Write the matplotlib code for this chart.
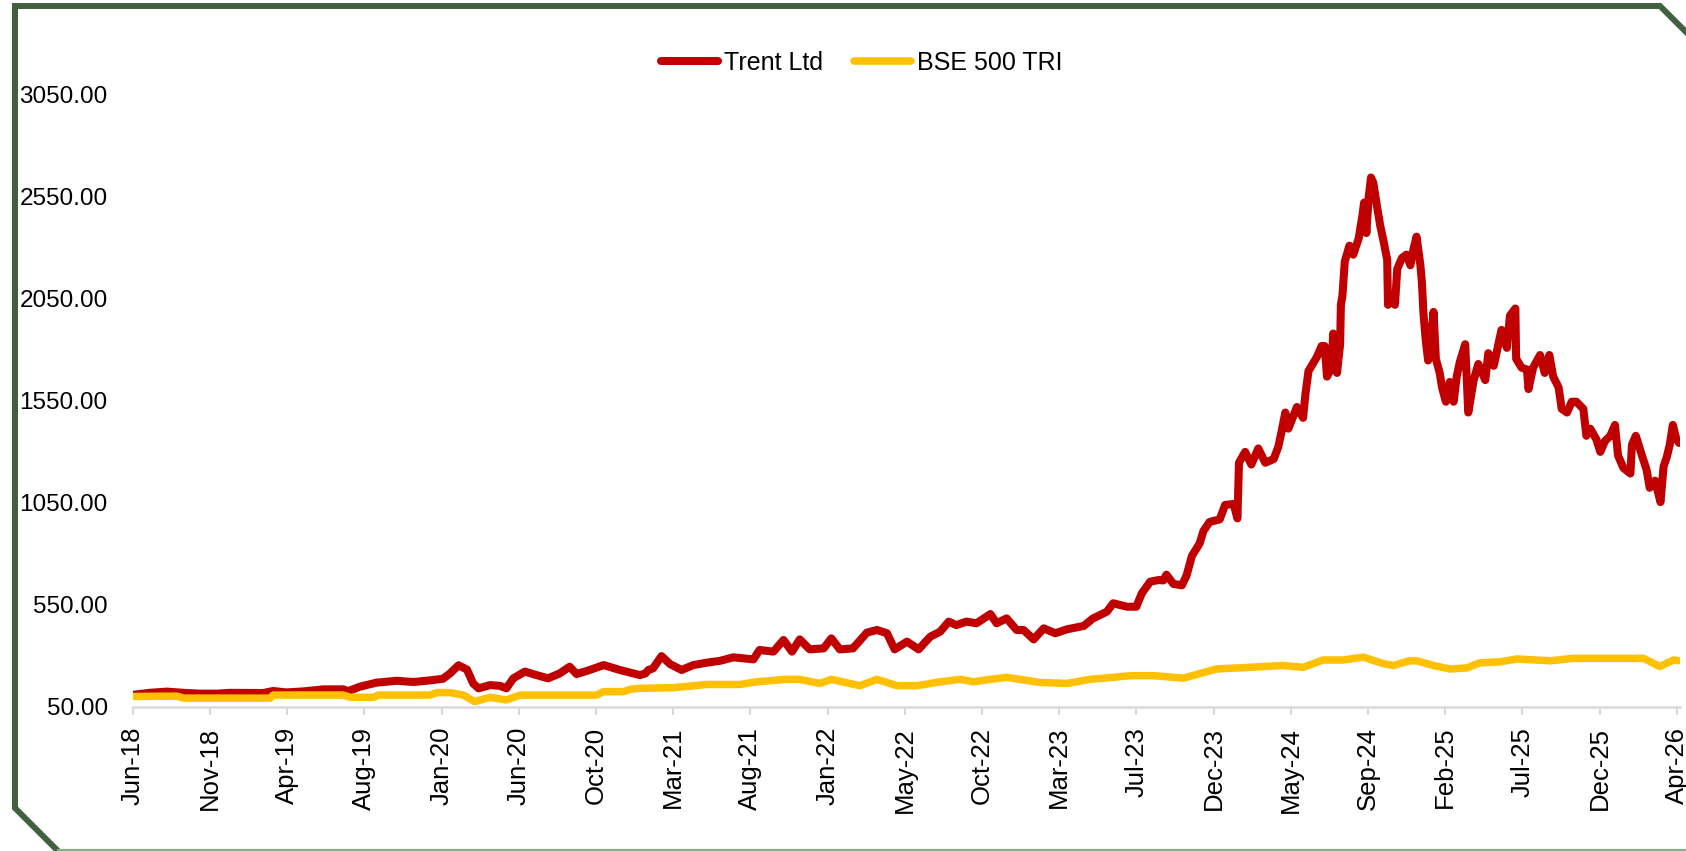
import matplotlib
matplotlib.use("Agg")
import matplotlib.pyplot as plt
from matplotlib import font_manager
from matplotlib.lines import Line2D

# ---------------- data (trading-day index, value rebased to 100) ----------------
tick_labels = ["Jun-18", "Nov-18", "Apr-19", "Aug-19", "Jan-20", "Jun-20", "Oct-20",
               "Mar-21", "Aug-21", "Jan-22", "May-22", "Oct-22", "Mar-23", "Jul-23",
               "Dec-23", "May-24", "Sep-24", "Feb-25", "Jul-25", "Dec-25", "Apr-26"]
tick_step = 100  # one label every 100 trading days

trent_idx = [0, 22, 44, 66, 87, 109, 126, 169, 182, 199, 221, 247, 273, 279, 294, 316, 342,
             364, 385, 402, 411, 422, 433, 441, 448, 463, 476, 484, 493, 508, 523, 538, 553,
             566, 575, 592, 610, 631, 657, 664, 668, 674, 685, 696, 711, 726, 744, 761, 778,
             804, 812, 830, 843, 854, 864, 877, 895, 905, 916, 933, 951, 964, 977, 987, 1003,
             1018, 1033, 1046, 1057, 1067, 1080, 1093, 1111, 1119, 1132, 1145, 1154, 1167,
             1180, 1195, 1210, 1232, 1244, 1262, 1270, 1288, 1300, 1307, 1318, 1329, 1335,
             1339, 1348, 1359, 1365, 1372, 1382, 1387, 1395, 1408, 1415, 1426, 1431, 1433,
             1441, 1449, 1458, 1467, 1478, 1484, 1488, 1493, 1497, 1508, 1516, 1519, 1523,
             1534, 1540, 1544, 1547, 1553, 1555, 1560, 1564, 1565, 1567, 1570, 1576, 1581,
             1588, 1593, 1595, 1598, 1601, 1604, 1607, 1611, 1616, 1620, 1625, 1626, 1631,
             1635, 1638, 1644, 1650, 1655, 1659, 1663, 1668, 1670, 1672, 1675, 1678, 1683,
             1685, 1688, 1693, 1696, 1701, 1706, 1711, 1715, 1719, 1726, 1730, 1737, 1743,
             1752, 1756, 1763, 1769, 1773, 1780, 1784, 1791, 1792, 1799, 1806, 1808, 1814,
             1823, 1829, 1835, 1840, 1847, 1851, 1858, 1864, 1870, 1879, 1883, 1888, 1896,
             1901, 1907, 1914, 1920, 1924, 1931, 1940, 1942, 1947, 1955, 1961, 1965, 1972,
             1979, 1983, 1987, 1991, 1995, 1999, 2003]
trent_val = [108, 118, 124, 118, 114, 114, 118, 117, 127, 120, 125, 135, 135, 126, 148, 168, 177,
             171, 179, 187, 213, 253, 232, 164, 140, 156, 152, 140, 189, 222, 205, 189, 213,
             246, 210, 230, 254, 230, 205, 213, 230, 238, 298, 259, 230, 254, 266, 275, 292,
             282, 328, 320, 377, 320, 380, 331, 336, 385, 331, 336, 413, 426, 410, 331, 369,
             331, 393, 418, 467, 450, 467, 459, 504, 459, 483, 426, 426, 380,
             434, 410, 429, 446, 483, 516, 557, 540, 540, 605, 663, 671, 669,
             697, 652, 645, 692, 789, 850, 912, 956, 968, 1039, 1044, 973, 1246,
             1299, 1237, 1316, 1246, 1264, 1325, 1396, 1492, 1413, 1519, 1466, 1580, 1695,
             1765, 1818, 1818, 1668, 1712, 1879, 1686, 1827, 2020, 2064, 2231, 2310, 2266,
             2345, 2460, 2521, 2372, 2548, 2644, 2618, 2521, 2407, 2337, 2240, 2020, 2055,
             2020, 2196, 2249, 2266, 2214, 2293, 2354, 2214, 2126, 1976, 1844, 1747, 1897,
             1985, 1756, 1686, 1615, 1545, 1642, 1545, 1668, 1739, 1827, 1492, 1651, 1730,
             1651, 1783, 1721, 1827, 1897, 1809, 1967, 2002, 1756, 1712, 1703, 1607, 1712,
             1774, 1686, 1774, 1668, 1615, 1510, 1492, 1545, 1545, 1510, 1378, 1413, 1360,
             1299, 1352, 1378, 1431, 1281, 1220, 1193, 1334, 1378, 1281, 1211, 1123, 1158,
             1053, 1228, 1272, 1334, 1431, 1369, 1343]

bse_idx = [0, 57, 66, 178, 182, 273, 282, 312, 318, 385, 394, 411, 428, 443, 463, 484, 502,
           601, 610, 636, 644, 657, 700, 744, 787, 808, 847, 864, 890, 905, 942, 964, 990,
           1016, 1046, 1072, 1089, 1111, 1132, 1175, 1210, 1240, 1270, 1292, 1322, 1361,
           1404, 1447, 1490, 1516, 1542, 1568, 1594, 1620, 1633, 1654, 1663, 1685, 1706,
           1728, 1745, 1771, 1793, 1836, 1866, 1927, 1957, 1978, 1996, 2003]
bse_val = [100, 102, 92, 92, 107, 107, 96, 96, 107, 107, 119, 119, 107, 75, 96, 83, 107,
           107, 124, 124, 135, 140, 143, 159, 159, 172, 184, 184, 164, 184, 153, 184, 153,
           153, 172, 184, 172, 184, 194, 169, 164, 184, 194, 202, 202, 190,
           235, 243, 252, 243, 279, 279, 293, 261, 252, 275, 275, 252, 235,
           240, 265, 270, 284, 275, 287, 287, 287, 247, 279, 275]

series_names = ["Trent Ltd", "BSE 500 TRI"]
y_ticks = [50, 550, 1050, 1550, 2050, 2550, 3050]

# ---------------- style ----------------
RED = "#C00000"
GOLD = "#FFC000"
FRAME = "#41603F"
AXIS_GREY = "#D9D9D9"

W, H, DPI = 1686, 851, 100
names = {f.name for f in font_manager.fontManager.ttflist}
if "Liberation Sans Narrow" in names:
    FAM = ["Liberation Sans Narrow", "DejaVu Sans"]
    FS_Y, FS_X, FS_L = 21.5, 21.5, 21.5
    HL, HTP, CS = 1.9, 0.2, 1.04
else:
    FAM = ["Liberation Sans", "DejaVu Sans"]
    FS_Y, FS_X, FS_L = 17.5, 18.5, 18
    HL, HTP, CS = 2.28, 0.24, 1.24
plt.rcParams["font.family"] = FAM

fig = plt.figure(figsize=(W / DPI, H / DPI), dpi=DPI, facecolor="white")

# plot area in pixel terms (from top-left)
left_px, right_px = 132.7, 1679.8
top_px, bottom_px = 94.7, 706.7
ax = fig.add_axes([left_px / W, (H - bottom_px) / H,
                   (right_px - left_px) / W, (bottom_px - top_px) / H])
ax.set_facecolor("white")

l1, = ax.plot(trent_idx, trent_val, color=RED, lw=5.8, solid_joinstyle="round",
              solid_capstyle="round", label=series_names[0], zorder=3)
l2, = ax.plot(bse_idx, bse_val, color=GOLD, lw=5.4, solid_joinstyle="round",
              solid_capstyle="round", label=series_names[1], zorder=4)

ax.set_xlim(0, 2004)
ax.set_ylim(50, 3050)
ax.set_yticks(y_ticks)
ax.set_yticklabels([f"{v:.2f}" for v in y_ticks], fontsize=FS_Y, color="black")
ax.tick_params(axis="y", length=0, pad=18)

xt = [i * tick_step for i in range(len(tick_labels))]
ax.set_xticks(xt)
ax.set_xticklabels(tick_labels, rotation=90, fontsize=FS_X, color="black")
ax.tick_params(axis="x", length=5.5, width=1.5, color=AXIS_GREY, pad=9, direction="out")

for s in ["top", "right", "left"]:
    ax.spines[s].set_visible(False)
ax.spines["bottom"].set_color(AXIS_GREY)
ax.spines["bottom"].set_linewidth(1.8)
ax.grid(False)

fig.legend(handles=[l1, l2], labels=series_names, loc="center",
           bbox_to_anchor=(862 / W, (H - 63) / H), ncol=2, frameon=False,
           fontsize=FS_L, handlelength=HL, handletextpad=HTP, columnspacing=CS,
           borderpad=0, borderaxespad=0)

# chamfered outer frame (pixel coordinates from top-left)
def px(xs, ys):
    return [x / W for x in xs], [(H - y) / H for y in ys]

fx, fy = px([58, 15, 15, 1660, 1700], [851, 808, 6, 6, 46])
fig.add_artist(Line2D(fx, fy, transform=fig.transFigure, color=FRAME, lw=4.3,
                      solid_joinstyle="miter"))
bx, by = px([58, W], [850, 850])
fig.add_artist(Line2D(bx, by, transform=fig.transFigure, color="#8EAA89", lw=1.6))

fig.savefig("out.png", dpi=DPI, facecolor="white")
